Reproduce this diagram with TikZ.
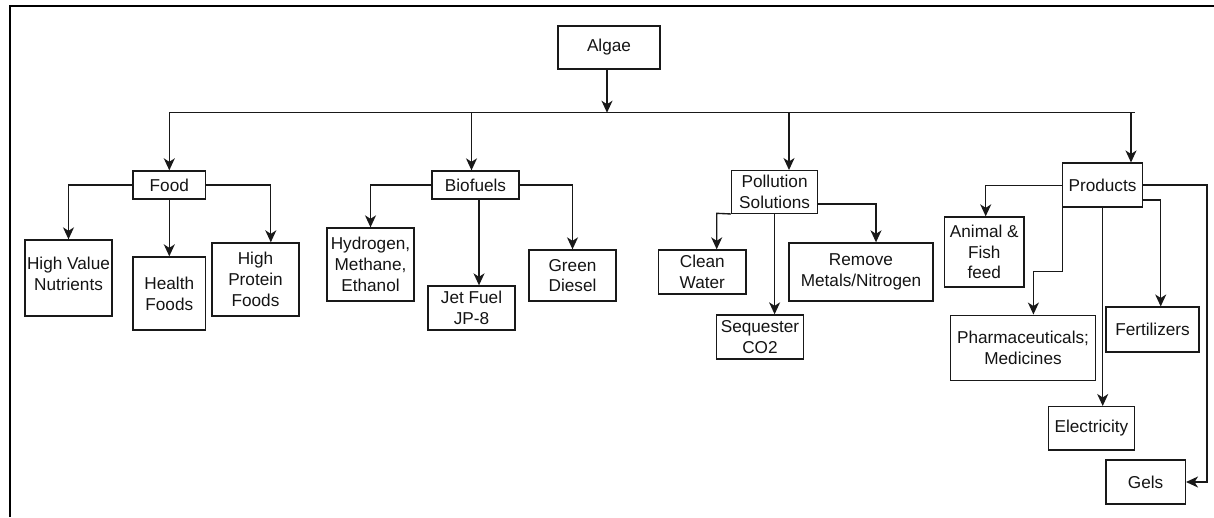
\documentclass[tikz,border=0pt]{standalone}
\usepackage{fontspec}
\setmainfont{Liberation Sans}
\usetikzlibrary{arrows.meta}
\begin{document}
\begin{tikzpicture}[x=1pt,y=-1pt,
  box/.style={draw=black!90, line width=1.35pt, inner sep=0pt, align=center,
    font=\fontsize{17.2}{20.7}\selectfont, text=black!92},
  txt/.style={inner sep=0pt, align=center, font=\fontsize{17.2}{20.7}\selectfont, text=black!92},
  conn/.style={draw=black!90, line width=1.35pt},
  arr/.style={conn, -{Stealth[length=12pt,width=11pt,inset=3.5pt]}}]
\useasboundingbox (0,0) rectangle (1214,517);
% frame
\draw[line width=2.2pt] (10.3,517) -- (10.3,6) -- (1214,6);

% top
\node[box, minimum width=102pt, minimum height=43pt] (algae) at (609,47.5) {Algae};
% level 1
\node[box, minimum width=72.5pt, minimum height=28pt] (food) at (169.3,185) {Food};
\node[box, minimum width=87pt, minimum height=28pt] (biofuels) at (475.5,185) {Biofuels};
\node[box, minimum width=86pt, minimum height=42.6pt] (pollution) at (774.6,192) {Pollution\\Solutions};
\node[box, minimum width=79.5pt, minimum height=43.7pt] (products) at (1102.5,185) {Products};
% food children
\node[box, minimum width=87pt, minimum height=76pt] (hvn) at (68.5,278) {};
\node[txt] (hvnt) at (68.5,274) {High Value\\Nutrients};
\node[box, minimum width=72.5pt, minimum height=73pt] (health) at (169.3,293.5) {Health\\Foods};
\node[box, minimum width=87pt, minimum height=73pt] (hpf) at (255.5,279.5) {High\\Protein\\Foods};
% biofuel children
\node[box, minimum width=87pt, minimum height=73pt] (hyd) at (370.5,264.5) {Hydrogen,\\Methane,\\Ethanol};
\node[box, minimum width=87pt, minimum height=44pt] (jet) at (471.5,308) {Jet Fuel\\JP-8};
\node[box, minimum width=87pt, minimum height=51pt] (green) at (572.5,275.5) {Green\\Diesel};
% pollution children
\node[box, minimum width=87.3pt, minimum height=44pt] (clean) at (702.3,272) {Clean\\Water};
\node[box, minimum width=144pt, minimum height=58pt] (remove) at (861,272) {Remove\\Metals/Nitrogen};
\node[box, minimum width=87pt, minimum height=44pt] (seq) at (760,337) {Sequester\\CO2};
% products children
\node[box, minimum width=79.4pt, minimum height=70pt] (animal) at (984.3,252) {Animal \&\\Fish\\feed};
\node[box, minimum width=144.5pt, minimum height=65pt] (pharma) at (1023,347.7) {Pharmaceuticals;\\Medicines};
\node[box, minimum width=93pt, minimum height=44.7pt] (fert) at (1152.5,329.5) {Fertilizers};
\node[box, minimum width=86.2pt, minimum height=43.3pt] (elec) at (1091.4,428.3) {Electricity};
\node[box, minimum width=79.5pt, minimum height=44pt] (gels) at (1145.6,482) {Gels};

% bus
\coordinate (busL) at (169.3,112.7);
\coordinate (busR) at (1134.5,112.7);
\coordinate (bA) at (607,112.7);
\coordinate (bB) at (471.5,112.7);
\coordinate (bP) at (789,112.7);
\coordinate (bR) at (1131,112.7);
\draw[conn] (busL) -- (busR);
\draw[arr] (algae.south -| bA) -- (bA);
\draw[arr] (busL) -- (food.north);
\draw[arr] (bB) -- (bB |- biofuels.north);
\draw[arr] (bP) -- (bP |- pollution.north);
\draw[arr] (bR) -- (bR |- products.north);

% food
\draw[arr] (food.west) -| (hvn.north);
\draw[arr] (food.south) -- (health.north);
\coordinate (fR) at (270.8,185);
\draw[arr] (food.east) -- (fR) -- (fR |- hpf.north);

% biofuels
\draw[arr] (biofuels.west) -| (hyd.north);
\coordinate (bJ) at (479,185);
\draw[arr] (bJ |- biofuels.south) -- (bJ |- jet.north);
\draw[arr] (biofuels.east) -| (green.north);

% pollution
\coordinate (pL) at (716.7,213.3);
\draw[arr] (pollution.south west) -- (pL) -- (pL |- clean.north);
\coordinate (pM) at (774.6,213.3);
\draw[arr] (pM) -- (pM |- seq.north);
\coordinate (pR) at (876,204);
\draw[arr] (pR -| pollution.east) -- (pR) -- (pR |- remove.north);

% products
\coordinate (qL) at (985.7,185.3);
\draw[arr] (qL -| products.west) -- (qL) -- (qL |- animal.north);
\coordinate (qR1) at (1207,185);
\coordinate (qR1b) at (1207,482);
\draw[arr] (qR1 -| products.east) -- (qR1) -- (qR1b) -- (gels.east);
\coordinate (qR2) at (1160.7,200);
\draw[arr] (qR2 -| products.east) -- (qR2) -- (qR2 |- fert.north);
\coordinate (qP1) at (1062.8,271.7);
\coordinate (qP2) at (1033.4,271.7);
\draw[arr] (qP1 |- products.south) -- (qP1) -- (qP2) -- (qP2 |- pharma.north);
\coordinate (qE) at (1102.7,206.7);
\draw[arr] (qE) -- (qE |- elec.north);
\end{tikzpicture}
\end{document}
